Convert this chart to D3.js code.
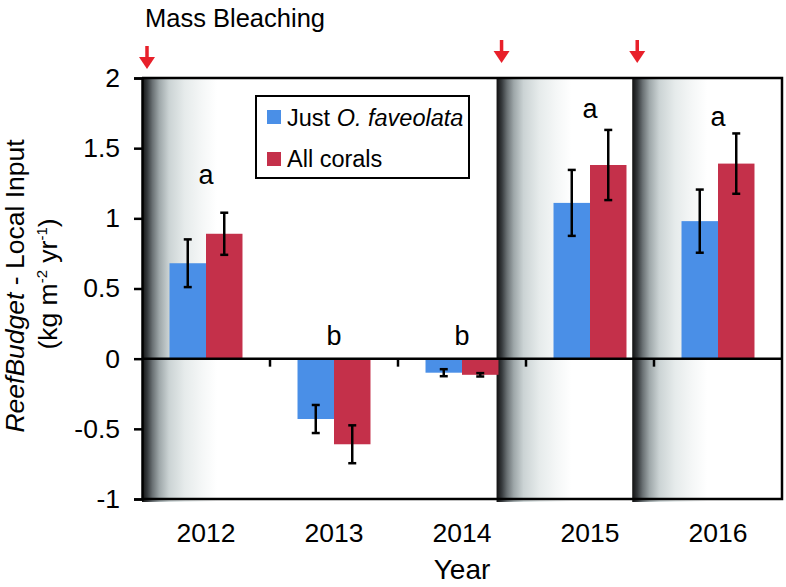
<!DOCTYPE html>
<html>
<head>
<meta charset="utf-8">
<script src="https://cdn.jsdelivr.net/npm/d3@7"></script>
<style>
  body { margin: 0; background: #fff; }
  svg { display: block; font-family: "Liberation Sans", Arial, sans-serif; }
</style>
</head>
<body>
<div id="chart"></div>
<script>
const years = ["2012", "2013", "2014", "2015", "2016"];
const series = ["Just O. faveolata", "All corals"];
const justFaveolata = [0.68, -0.43, -0.10, 1.11, 0.98];
const justFaveolataErr = [0.17, 0.10, 0.025, 0.235, 0.225];
const allCorals = [0.89, -0.61, -0.115, 1.38, 1.39];
const allCoralsErr = [0.15, 0.135, 0.012, 0.25, 0.215];
const groupLetters = ["a", "b", "b", "a", "a"];
const letterAt = [1.245, 0.1, 0.1, 1.715, 1.66];
const yTicks = [-1, -0.5, 0, 0.5, 1, 1.5, 2];
const bleachingAt = [2011.5, 2014.27, 2015.33]; // on a year scale, year = category centre

const W = 786, H = 587;
const margin = {left: 142, right: 4, top: 78, bottom: 88};
const colors = {"Just O. faveolata": "#4a8fe7", "All corals": "#c4304a"};

function init() {
    const svg = d3.select("#chart").append("svg")
        .attr("width", W)
        .attr("height", H);

    const x = d3.scaleBand().domain(years).range([margin.left, W - margin.right]).padding(0);
    const xs = d3.scaleBand().domain(series).range([0, x.bandwidth()]).paddingInner(0).paddingOuter(0.754);
    const xt = d3.scaleLinear().domain([2011.5, 2016.5]).range([margin.left, W - margin.right]);
    const y = d3.scaleLinear().domain([-1, 2]).range([H - margin.bottom, margin.top]);

    // shading gradient for bleaching bands
    const defs = svg.append("defs");
    const grad = defs.append("linearGradient").attr("id", "bleach")
        .attr("x1", "0%").attr("x2", "100%").attr("y1", "0%").attr("y2", "0%");
    [[0, "#111111"], [0.07, "#363a3d"], [0.14, "#6a7174"], [0.23, "#9ea7a9"],
     [0.36, "#cbd3d4"], [0.57, "#e6ebeb"], [0.8, "#f5f7f7"], [1, "#ffffff"]]
        .forEach(s => grad.append("stop").attr("offset", s[0]).attr("stop-color", s[1]));

    const bandW = 75;
    svg.append("g").selectAll("rect.band")
        .data(bleachingAt)
        .enter()
        .append("rect")
        .attr("x", d => xt(d))
        .attr("y", y(2) - 1)
        .attr("width", bandW)
        .attr("height", y(-1) - y(2) + 4)
        .attr("fill", "url(#bleach)")
        .classed("band", true);

    // bars
    const rows = years.map((yr, i) => ({
        year: yr,
        vals: [
            {s: series[0], v: justFaveolata[i], e: justFaveolataErr[i]},
            {s: series[1], v: allCorals[i], e: allCoralsErr[i]}
        ]
    }));

    const groups = svg.append("g").selectAll("g.grp")
        .data(rows)
        .enter()
        .append("g")
        .attr("transform", d => "translate(" + x(d.year) + ",0)")
        .classed("grp", true);

    groups.selectAll("rect")
        .data(d => d.vals)
        .enter()
        .append("rect")
        .attr("x", d => xs(d.s))
        .attr("y", d => y(Math.max(0, d.v)))
        .attr("width", xs.bandwidth())
        .attr("height", d => Math.abs(y(d.v) - y(0)))
        .attr("fill", d => colors[d.s]);

    // error bars
    const eb = groups.selectAll("g.err")
        .data(d => d.vals)
        .enter()
        .append("g")
        .attr("stroke", "#000")
        .attr("stroke-width", 2.5)
        .classed("err", true);
    eb.append("line")
        .attr("x1", d => xs(d.s) + xs.bandwidth() / 2)
        .attr("x2", d => xs(d.s) + xs.bandwidth() / 2)
        .attr("y1", d => y(d.v + d.e))
        .attr("y2", d => y(d.v - d.e));
    [1, -1].forEach(sign => {
        eb.append("line")
            .attr("x1", d => xs(d.s) + xs.bandwidth() / 2 - 4)
            .attr("x2", d => xs(d.s) + xs.bandwidth() / 2 + 4)
            .attr("y1", d => y(d.v + sign * d.e))
            .attr("y2", d => y(d.v + sign * d.e));
    });

    // significance letters
    svg.append("g").selectAll("text")
        .data(groupLetters)
        .enter()
        .append("text")
        .attr("x", (d, i) => x(years[i]) + x.bandwidth() / 2)
        .attr("y", (d, i) => y(letterAt[i]))
        .attr("text-anchor", "middle")
        .attr("font-size", 27)
        .text(d => d);

    // frame
    const frame = svg.append("g").attr("stroke", "#000").attr("stroke-width", 2.5).attr("fill", "none");
    frame.append("path")
        .attr("d", "M" + margin.left + "," + y(2) + "H" + (W - margin.right) + "V" + y(-1) + "H" + margin.left);
    frame.append("line")
        .attr("x1", margin.left).attr("x2", W - margin.right)
        .attr("y1", y(0)).attr("y2", y(0));
    frame.selectAll("line.xtick")
        .data(years.slice(1))
        .enter()
        .append("line")
        .attr("x1", d => x(d)).attr("x2", d => x(d))
        .attr("y1", y(0)).attr("y2", y(0) + 8)
        .classed("xtick", true);

    // y axis
    const yAxis = svg.append("g")
        .attr("transform", "translate(" + margin.left + ",0)")
        .call(d3.axisLeft(y).tickValues(yTicks).tickSize(8).tickPadding(14).tickFormat(d => String(d)));
    yAxis.selectAll("path.domain").attr("stroke-width", 2.5);
    yAxis.selectAll(".tick line").attr("stroke-width", 2.5);
    yAxis.selectAll("text").attr("font-size", 26.5).attr("font-family", "Liberation Sans, Arial, sans-serif").attr("fill", "#000");

    // x axis labels
    const xAxis = svg.append("g")
        .attr("transform", "translate(0," + y(-1) + ")")
        .call(d3.axisBottom(x).tickSize(0).tickPadding(24.5));
    xAxis.select("path.domain").remove();
    xAxis.selectAll("text").attr("font-size", 26.5).attr("font-family", "Liberation Sans, Arial, sans-serif").attr("fill", "#000");

    svg.append("text")
        .attr("x", (margin.left + W - margin.right) / 2)
        .attr("y", 579)
        .attr("text-anchor", "middle")
        .attr("font-size", 28)
        .text("Year");

    // y title
    const yt = svg.append("text")
        .attr("transform", "translate(24,286) rotate(-90)")
        .attr("text-anchor", "middle")
        .attr("font-size", 26.5);
    yt.append("tspan").attr("font-style", "italic").text("ReefBudget");
    yt.append("tspan").text(" - Local Input");

    const yt2 = svg.append("text")
        .attr("transform", "translate(57,284) rotate(-90)")
        .attr("text-anchor", "middle")
        .attr("font-size", 26.5);
    yt2.append("tspan").text("(kg m");
    yt2.append("tspan").attr("font-size", 15).attr("dy", -10).text("-2");
    yt2.append("tspan").attr("dy", 10).text(" yr");
    yt2.append("tspan").attr("font-size", 15).attr("dy", -10).text("-1");
    yt2.append("tspan").attr("dy", 10).text(")");

    // legend
    const lg = svg.append("g");
    lg.append("rect")
        .attr("x", 256).attr("y", 96).attr("width", 213).attr("height", 82)
        .attr("fill", "#fff").attr("stroke", "#000").attr("stroke-width", 2);
    series.forEach((s, i) => {
        lg.append("rect")
            .attr("x", 267).attr("y", 110 + i * 42).attr("width", 14).attr("height", 14)
            .attr("fill", colors[s]);
        const t = lg.append("text")
            .attr("x", 287).attr("y", 126 + i * 41)
            .attr("font-size", 23.5);
        if (i === 0) {
            t.append("tspan").text("Just ");
            t.append("tspan").attr("font-style", "italic").text("O. faveolata");
        } else {
            t.text(s);
        }
    });

    // title
    svg.append("text")
        .attr("x", 145).attr("y", 27)
        .attr("font-size", 25.5)
        .text("Mass Bleaching");

    // red arrows marking bleaching events
    const ar = svg.append("g").attr("fill", "#e8202a");
    bleachingAt.forEach((b, i) => {
        const cx = xt(b) + 5;
        const tip = i === 0 ? 69 : 63;
        ar.append("rect")
            .attr("x", cx - 1.75).attr("y", tip - 23).attr("width", 3.5).attr("height", 15);
        ar.append("path")
            .attr("d", "M" + (cx - 8) + "," + (tip - 12) + "L" + (cx + 8) + "," + (tip - 12) + "L" + cx + "," + tip + "Z");
    });
}

window.onload = init;
</script>
</body>
</html>
